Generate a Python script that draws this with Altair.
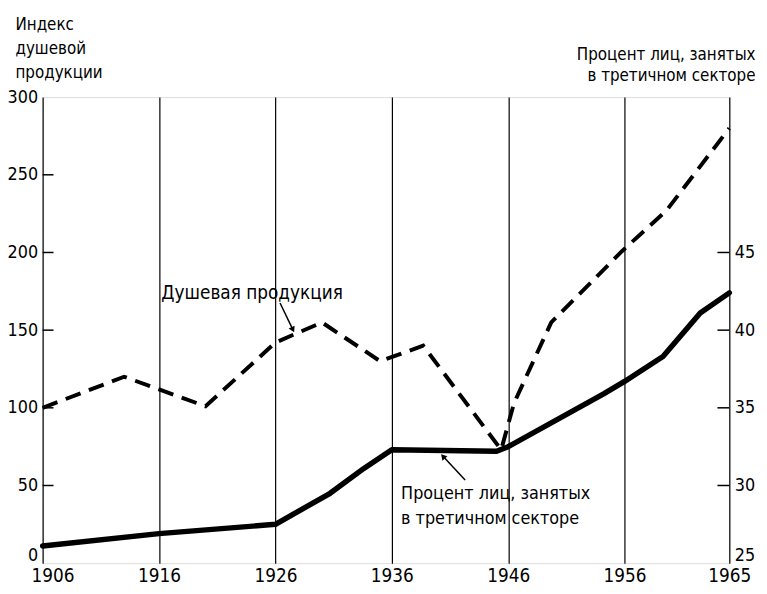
import altair as alt
import pandas as pd

# Per-capita production index (left axis)
prod_years = [1906, 1913, 1920, 1926, 1930, 1935, 1938.7, 1945.4, 1946.5, 1949.7, 1955.8, 1959.6, 1965]
prod_values = [100, 120, 101, 142, 155, 130, 140, 73, 103, 155, 201, 227, 280]

# Percent employed in tertiary sector (right axis)
pct_years = [1906, 1916, 1926, 1930.7, 1933.6, 1936, 1945, 1946, 1954.2, 1956, 1959.3, 1962.5, 1965]
pct_values = [26.1, 26.9, 27.5, 29.5, 31.1, 32.3, 32.2, 32.5, 35.9, 36.7, 38.3, 41.1, 42.4]

x_ticks = [1906, 1916, 1926, 1936, 1946, 1956, 1965]
left_ticks = [0, 50, 100, 150, 200, 250, 300]
right_ticks = [25, 30, 35, 40, 45]

left_title = ["Индекс", "душевой", "продукции"]
right_title = ["Процент лиц, занятых", "в третичном секторе"]

ann1_text = ["Душевая продукция"]
ann1_x = [1916.2]
ann1_y = [174]
ann2_text = ["Процент лиц, занятых", "в третичном секторе"]
ann2_x = [1936.8, 1936.8]
ann2_y = [44.6, 28.7]

arrow1 = {"x": [1926.4], "y": [167.5], "x2": [1927.5], "y2": [150.3]}
arrow2 = {"x": [1942.3], "y": [53.5], "x2": [1940.4], "y2": [68.8]}

FONT = "DejaVu Sans Condensed, DejaVu Sans, sans-serif"

XD = [1906, 1965]
LEFT = [0, 300]
RIGHT = [25, 55]

xs = alt.Scale(domain=XD, nice=False, zero=False)
ls = alt.Scale(domain=LEFT, nice=False, zero=False)
rs = alt.Scale(domain=RIGHT, nice=False, zero=False)

prod_df = pd.DataFrame({"year": prod_years, "v": prod_values})
pct_df = pd.DataFrame({"year": pct_years, "p": pct_values})

x_axis = alt.Axis(
    values=x_ticks, format="d", grid=True, gridColor="black", gridWidth=1.2,
    gridOpacity=1, tickSize=0, labelPadding=4, labelFontSize=19, labelFlush=False,
    labelOffset={"condition": {"test": "datum.value == 1906", "value": 10}, "value": 0},
    domain=False, title=None, labelColor="black", labelFont=FONT,
)

prod = alt.Chart(prod_df).mark_line(
    color="black", strokeWidth=4, strokeDash=[16, 9]
).encode(
    x=alt.X("year:Q", scale=xs, axis=x_axis),
    y=alt.Y("v:Q", scale=ls, axis=alt.Axis(
        values=left_ticks, tickSize=0, labelPadding=5, domain=False, grid=False,
        labelFontSize=18, labelFont=FONT, labelColor="black",
        labelOffset={"condition": {"test": "datum.value == 0", "value": -8}, "value": 0},
        title=left_title, titleAngle=0, titleAlign="left", titleBaseline="top",
        titleX=-28, titleY=-81, titleFontSize=17, titleFont=FONT,
        titleFontWeight="normal", titleLineHeight=24, titleColor="black",
    )),
)

pct = alt.Chart(pct_df).mark_line(
    color="black", strokeWidth=5.5, strokeCap="round", strokeJoin="round"
).encode(
    x=alt.X("year:Q", scale=xs),
    y=alt.Y("p:Q", scale=rs, axis=alt.Axis(
        orient="right", values=right_ticks, tickSize=0, labelPadding=5,
        domain=False, grid=False, labelFontSize=18, labelFont=FONT, labelColor="black",
        labelOffset={"condition": {"test": "datum.value == 25", "value": -8}, "value": 0},
        title=right_title, titleAngle=0, titleAlign="right", titleBaseline="top",
        titleX=26, titleY=-51, titleFontSize=17, titleFont=FONT,
        titleFontWeight="normal", titleLineHeight=21, titleColor="black",
    )),
)

# inward tick marks on the left and right axes
lt_df = pd.DataFrame({"v": left_ticks[1:-1]})
left_tk = alt.Chart(lt_df).mark_rule(color="black", strokeWidth=1.5).encode(
    x=alt.value(0), x2=alt.value(11),
    y=alt.Y("v:Q", scale=ls, axis=None),
)
rt_df = pd.DataFrame({"p": right_ticks[1:]})
right_tk = alt.Chart(rt_df).mark_rule(color="black", strokeWidth=1.5).encode(
    x=alt.value(682), x2=alt.value(694),
    y=alt.Y("p:Q", scale=rs, axis=None),
)

a1 = alt.Chart(pd.DataFrame({"t": ann1_text, "x": ann1_x, "y": ann1_y})).mark_text(
    align="left", baseline="middle", fontSize=19, font=FONT, color="black"
).encode(x=alt.X("x:Q", scale=xs), y=alt.Y("y:Q", scale=ls, axis=None), text="t:N")

a2 = alt.Chart(pd.DataFrame({"t": ann2_text, "x": ann2_x, "y": ann2_y})).mark_text(
    align="left", baseline="middle", fontSize=18, font=FONT, color="black"
).encode(x=alt.X("x:Q", scale=xs), y=alt.Y("y:Q", scale=ls, axis=None), text="t:N")


def arrow(d, angle):
    df = pd.DataFrame(d)
    shaft = alt.Chart(df).mark_rule(color="black", strokeWidth=1.5).encode(
        x=alt.X("x:Q", scale=xs), x2="x2:Q",
        y=alt.Y("y:Q", scale=ls, axis=None), y2="y2:Q",
    )
    head = alt.Chart(df).mark_point(
        shape="triangle-up", filled=True, color="black", size=45, angle=angle, opacity=1
    ).encode(x=alt.X("x2:Q", scale=xs), y=alt.Y("y2:Q", scale=ls, axis=None))
    return [shaft, head]


layers = [prod, pct, left_tk, right_tk, a1, a2] + arrow(arrow1, 154) + arrow(arrow2, 318)

chart = alt.layer(*layers).resolve_scale(y="independent").properties(
    width=694, height=471,
    autosize=alt.AutoSizeParams(type="none"),
    padding={"left": 35, "top": 87, "right": 30, "bottom": 20},
).configure_view(
    stroke="black", strokeWidth=1.5
).configure(background="white")

chart.save("out.html", embed_options={"renderer": "svg", "actions": False})
